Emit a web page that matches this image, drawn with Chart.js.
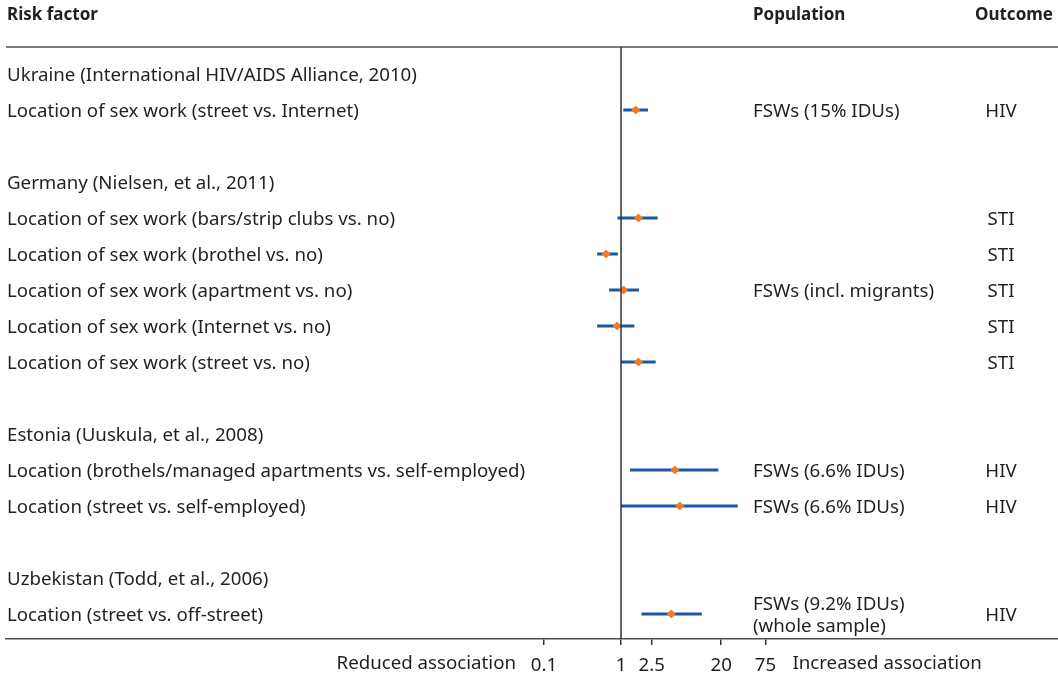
<!DOCTYPE html>
<html>
<head>
<meta charset="utf-8">
<script src="https://cdn.jsdelivr.net/npm/chart.js@4.4.1/dist/chart.umd.min.js"></script>
<style>
  html, body { margin: 0; padding: 0; background: #fff; }
  #wrap { width: 1058px; height: 681px; }
</style>
</head>
<body>
<div id="wrap"><canvas id="forest"></canvas></div>
<script>
const rowLabels = [
  "Ukraine (International HIV/AIDS Alliance, 2010)",
  "Location of sex work (street vs. Internet)",
  "",
  "Germany (Nielsen, et al., 2011)",
  "Location of sex work (bars/strip clubs vs. no)",
  "Location of sex work (brothel vs. no)",
  "Location of sex work (apartment vs. no)",
  "Location of sex work (Internet vs. no)",
  "Location of sex work (street vs. no)",
  "",
  "Estonia (Uuskula, et al., 2008)",
  "Location (brothels/managed apartments vs. self-employed)",
  "Location (street vs. self-employed)",
  "",
  "Uzbekistan (Todd, et al., 2006)",
  "Location (street vs. off-street)"
];
const estimates = [null, 1.55, null, null, 1.68, 0.64, 1.08, 0.89, 1.68, null, null, 5.0, 5.8, null, null, 4.5];
const lower = [null, 1.07, null, null, 0.9, 0.49, 0.70, 0.49, 1.0, null, null, 1.31, 1.0, null, null, 1.84];
const upper = [null, 2.24, null, null, 2.99, 0.91, 1.71, 1.49, 2.82, null, null, 18.4, 32.8, null, null, 11.2];
const population = [
  "", "FSWs (15% IDUs)", "", "", "", "", "FSWs (incl. migrants)", "", "", "", "",
  "FSWs (6.6% IDUs)", "FSWs (6.6% IDUs)", "", "", "FSWs (9.2% IDUs)\n(whole sample)"
];
const outcome = ["", "HIV", "", "", "STI", "STI", "STI", "STI", "STI", "", "", "HIV", "HIV", "", "", "HIV"];
const headers = ["Risk factor", "Population", "Outcome"];
const tickValues = [0.1, 1, 2.5, 20, 75];
const tickLabels = ["0.1", "1", "2.5", "20", "75"];
const axisNotes = ["Reduced association", "Increased association"];

const FONT = "'Noto Sans', sans-serif";
const TEXT = "#231f20";
const BLUE = "#1b57a7";
const ORANGE = "#f47c20";

// one line dataset per interval
const ciSets = [];
rowLabels.forEach((lab, i) => {
  if (lower[i] == null) return;
  ciSets.push({
    type: "line",
    data: [{ x: lower[i], y: i }, { x: upper[i], y: i }],
    borderColor: BLUE,
    borderWidth: 3,
    borderCapStyle: "butt",
    pointRadius: 0,
    order: 2
  });
});

const pointSet = {
  type: "scatter",
  data: estimates.map((v, i) => (v == null ? null : { x: v, y: i })).filter(p => p),
  backgroundColor: ORANGE,
  borderColor: ORANGE,
  pointStyle: "rectRot",
  pointRadius: 4,
  order: 1
};

const textPlugin = {
  id: "forestText",
  afterDraw(chart) {
    const ctx = chart.ctx;
    const xs = chart.scales.x;
    const ys = chart.scales.y;
    const area = chart.chartArea;
    ctx.save();

    // top rule and reference line at 1
    ctx.strokeStyle = "#4d4d4f";
    ctx.lineWidth = 1.5;
    ctx.beginPath();
    ctx.moveTo(area.left, area.top);
    ctx.lineTo(area.right, area.top);
    ctx.stroke();
    const x1 = xs.getPixelForValue(1);
    ctx.strokeStyle = "#333";
    ctx.beginPath();
    ctx.moveTo(x1, area.top);
    ctx.lineTo(x1, area.bottom);
    ctx.stroke();

    ctx.fillStyle = TEXT;
    ctx.textBaseline = "middle";

    ctx.font = "bold 17px " + FONT;
    ctx.textAlign = "left";
    ctx.fillText(headers[0], 7, 15);
    ctx.fillText(headers[1], 753, 15);
    ctx.fillText(headers[2], 975, 15);

    ctx.font = "18.7px " + FONT;
    rowLabels.forEach((lab, i) => {
      const y = ys.getPixelForValue(i) + 1.5;
      ctx.textAlign = "left";
      if (lab) ctx.fillText(lab, 7, y);
      if (population[i]) {
        const lines = population[i].split("\n");
        lines.forEach((ln, k) => {
          ctx.fillText(ln, 753, y + (k - (lines.length - 1) / 2) * 22);
        });
      }
      if (outcome[i]) {
        ctx.textAlign = "center";
        ctx.fillText(outcome[i], 1001, y);
      }
    });

    const ty = xs.top + 25;
    ctx.textAlign = "right";
    ctx.fillText(axisNotes[0], xs.getPixelForValue(tickValues[0]) - 28, ty);
    ctx.textAlign = "left";
    ctx.fillText(axisNotes[1], xs.getPixelForValue(tickValues[tickValues.length - 1]) + 27, ty);
    ctx.restore();
  }
};

new Chart(document.getElementById("forest"), {
  data: { datasets: [...ciSets, pointSet] },
  options: {
    responsive: true,
    maintainAspectRatio: false,
    animation: false,
    layout: { autoPadding: false, padding: { left: 6, top: 47, right: 0, bottom: 0 } },
    plugins: { legend: { display: false }, tooltip: { enabled: false } },
    scales: {
      x: {
        type: "logarithmic",
        min: Math.pow(10, -7.987),
        max: Math.pow(10, 5.675),
        afterBuildTicks: (scale) => {
          scale.ticks = tickValues.map(v => ({ value: v }));
        },
        afterFit: (scale) => { scale.height = 42; },
        ticks: {
          autoSkip: false,
          maxRotation: 0,
          padding: 9,
          color: TEXT,
          font: { family: FONT, size: 18.7 },
          callback: (v, i) => tickLabels[i]
        },
        grid: { drawOnChartArea: false, drawTicks: true, tickLength: 6, color: "#333", lineWidth: 1.5 },
        border: { display: true, color: "#4d4d4f", width: 1.5 }
      },
      y: {
        type: "linear",
        display: false,
        reverse: true,
        min: -0.75,
        max: 15.694
      }
    }
  },
  plugins: [textPlugin]
});
</script>
</body>
</html>
